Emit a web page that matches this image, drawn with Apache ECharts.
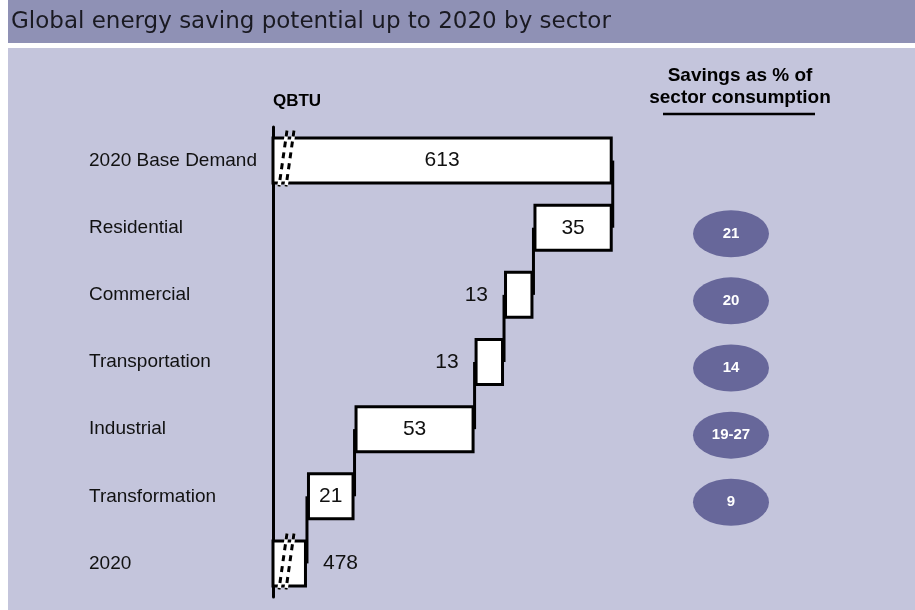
<!DOCTYPE html>
<html>
<head>
<meta charset="utf-8">
<script src="https://cdn.jsdelivr.net/npm/echarts@6/dist/echarts.min.js"></script>
<style>html,body{margin:0;padding:0;background:#fff}#c{width:915px;height:610px}</style>
</head>
<body>
<div id="c"></div>
<script>
const categories = ['2020 Base Demand','Residential','Commercial','Transportation','Industrial','Transformation','2020'];
const values = [613, 35, 13, 13, 53, 21, 478];
const savingsLabels = ['21','20','14','19-27','9'];
const savingsRows = ['Residential','Commercial','Transportation','Industrial','Transformation'];
const axisMin = 463, axisMax = 614;
const brokenRows = [0, 6];

// waterfall helper tables built from the values
const bases = [];
const boundaries = [];
let running = values[0];
values.forEach((v, i) => {
  if (i === 0 || i === values.length - 1) { bases.push(0); }
  else { running -= v; bases.push(running); }
});
boundaries.push(values[0]);
for (let i = 1; i < values.length - 1; i++) boundaries.push(bases[i]);

const labelPos = ['inside','inside','left','left','inside','inside','right'];
const visibleData = values.map((v, i) => ({
  value: v,
  label: { position: labelPos[i], distance: 16 }
}));

const chart = echarts.init(document.getElementById('c'), null, {renderer: 'canvas'});
const FONT = '"Liberation Sans", Arial, sans-serif';

chart.setOption({
  animation: false,
  backgroundColor: '#ffffff',
  graphic: [
    {type:'rect', z:-10, shape:{x:8,y:0,width:907,height:43}, style:{fill:'#8f91b5'}},
    {type:'rect', z:-10, shape:{x:8,y:48,width:907,height:562}, style:{fill:'#c4c5dc'}},
    {type:'text', x:11, y:22, style:{text:'Global energy saving potential up to 2020 by sector', fill:'#1a1a22', font:'23px "DejaVu Sans", sans-serif', verticalAlign:'middle'}},
    {type:'text', x:297, y:101, style:{text:'QBTU', fill:'#000', font:'bold 17px ' + FONT, align:'center', verticalAlign:'middle'}},
    {type:'text', x:740, y:87, style:{text:'Savings as % of\nsector consumption', fill:'#000', font:'bold 19px ' + FONT, align:'center', verticalAlign:'middle', lineHeight:22}},
    {type:'line', shape:{x1:663,y1:114,x2:815,y2:114}, style:{stroke:'#000', lineWidth:2.5}}
  ],
  grid: [
    {left:273, width:342, top:127, bottom:13},
    {left:600, width:262, top:127, bottom:13}
  ],
  xAxis: [
    {type:'value', min:axisMin, max:axisMax, show:false, gridIndex:0},
    {type:'value', min:0, max:1, show:false, gridIndex:1}
  ],
  yAxis: [
    {type:'category', data:categories, inverse:true, gridIndex:0,
     axisLine:{show:true, lineStyle:{color:'#000', width:3}},
     axisTick:{show:false},
     axisLabel:{align:'left', margin:184, color:'#111', fontSize:19, fontFamily:FONT}},
    {type:'category', data:categories, inverse:true, gridIndex:1, show:false}
  ],
  series: [
    {type:'bar', stack:'w', data:bases, barWidth:48, silent:true,
     itemStyle:{color:'rgba(0,0,0,0)'}, emphasis:{disabled:true}},
    {type:'bar', stack:'w', data:visibleData, barWidth:48, clip:true,
     itemStyle:{color:'#ffffff', borderColor:'#000', borderWidth:3},
     label:{show:true, color:'#111', fontSize:21, fontFamily:FONT},
     emphasis:{disabled:true}},
    {type:'custom', clip:false, silent:true, z:5,
     data: boundaries.map((b, i) => [b, i]),
     renderItem: function(params, api) {
       const b = api.value(0), i = api.value(1);
       const p1 = api.coord([b, i]);
       const p2 = api.coord([b, i + 1]);
       return {type:'line', shape:{x1:p1[0], y1:p1[1], x2:p2[0], y2:p2[1]}, style:{stroke:'#000', lineWidth:3}};
     }},
    {type:'custom', clip:false, silent:true, z:6,
     data: brokenRows.map(r => [axisMin, r]),
     renderItem: function(params, api) {
       const p = api.coord([api.value(0), api.value(1)]);
       const x = p[0], y = p[1];
       const segs = [[14,-30,6,26],[21,-30,13,26]];
       const children = [];
       segs.forEach(s => {
         const shape = {x1:x+s[0], y1:y+s[1], x2:x+s[2], y2:y+s[3]};
         children.push({type:'line', shape:shape, style:{stroke:'#ffffff', lineWidth:3.5}});
         children.push({type:'line', shape:shape, style:{stroke:'#000', lineWidth:3, lineDash:[6,5]}});
       });
       return {type:'group', children:children};
     }},
    {type:'scatter', xAxisIndex:1, yAxisIndex:1,
     data: savingsRows.map((r, i) => ({value:[0.5, r], name:savingsLabels[i]})),
     symbol:'circle', symbolSize:[76,47], symbolOffset:[0,6],
     itemStyle:{color:'#67679a', opacity:1},
     label:{show:true, position:'inside', formatter: p => p.name, color:'#fff', fontWeight:'bold', fontSize:15, fontFamily:FONT},
     emphasis:{disabled:true}}
  ]
});
</script>
</body>
</html>
